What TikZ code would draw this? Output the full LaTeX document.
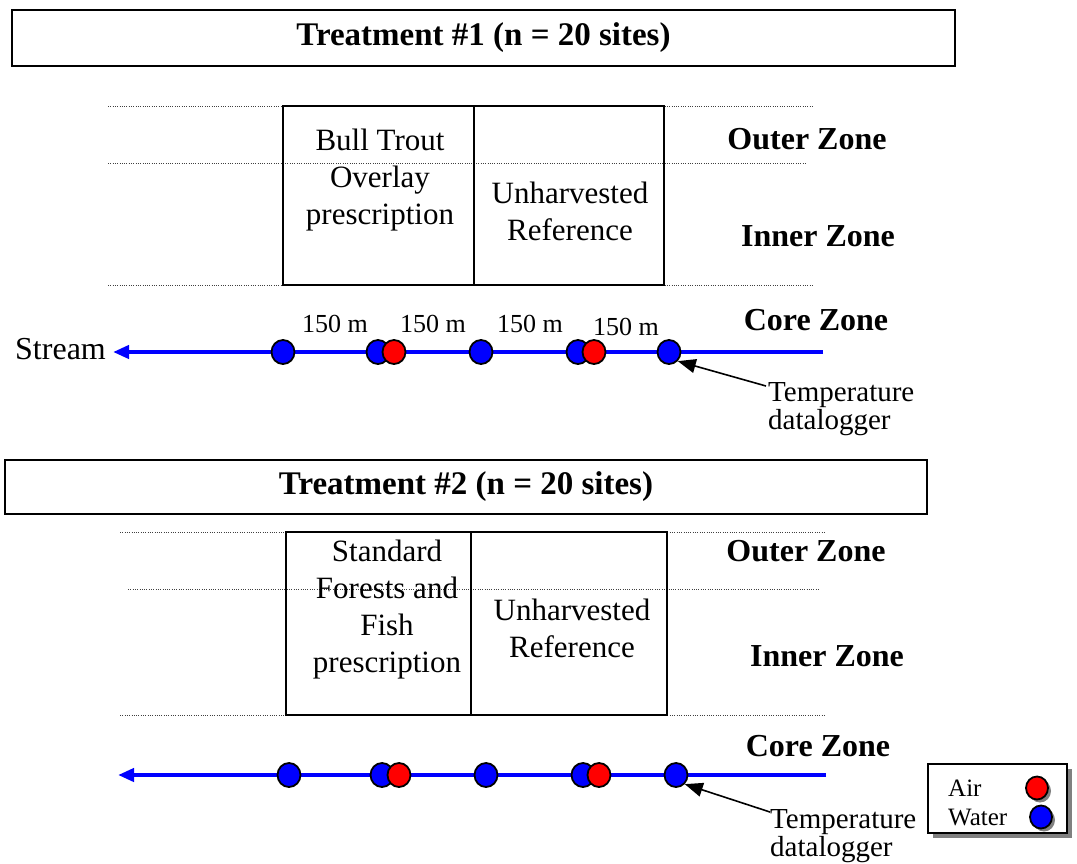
\documentclass[tikz,border=0pt]{standalone}
\usepackage{fontspec}
\setmainfont{Liberation Serif}
\usetikzlibrary{shapes.geometric,arrows.meta,shadows}
\begin{document}
\begin{tikzpicture}[x=1pt,y=-1pt,
  dotline/.style={line width=1pt, dash pattern=on 1pt off 1.3pt, black!75},
  titlebox/.style={draw, line width=2pt, inner sep=0, font=\bfseries\fontsize{33}{38}\selectfont},
  zonebox/.style={draw, line width=2pt},
  boxtext/.style={font=\fontsize{31}{37}\selectfont, align=center, inner sep=0},
  zonelabel/.style={font=\bfseries\fontsize{32}{37}\selectfont, inner sep=0},
  dist/.style={font=\fontsize{26}{30}\selectfont, inner sep=0},
  notetext/.style={font=\fontsize{29}{26}\selectfont, align=left, inner sep=0, anchor=west},
  stream/.style={line width=4pt, blue, -{Triangle[length=16pt,width=13pt]}},
  pointer/.style={line width=1.6pt, black, -{Triangle[length=18pt,width=14pt]}},
  water/.style={ellipse, draw=black, line width=1.8pt, fill=blue, minimum width=23pt, minimum height=24pt, inner sep=0},
  air/.style={ellipse, draw=black, line width=1.8pt, fill=red, minimum width=23pt, minimum height=24pt, inner sep=0},
  legshadow/.style={drop shadow={shadow xshift=3pt, shadow yshift=-3pt, fill=gray, opacity=1}},
  legtext/.style={font=\fontsize{25}{28}\selectfont, inner sep=0, anchor=west}
]
\useasboundingbox (0,0) rectangle (1077,863);

% ---------- Treatment 1 ----------
\node[titlebox, minimum width=943pt, minimum height=56pt] (t1) at (483.5,38) {Treatment \#1 (n = 20 sites)};

\draw[dotline] (108,106) -- (813,106);
\draw[dotline] (108,163) -- (805,163);
\draw[dotline] (108,285) -- (813,285);

\draw[zonebox] (283,106) rectangle (474,285);
\draw[zonebox] (474,106) rectangle (664,285);

\node[boxtext] (bt1) at (380,180) {Bull Trout\\Overlay\\prescription};
\node[boxtext] (ur1) at (570,211) {Unharvested\\Reference};

\node[zonelabel] (oz1) at (807,139) {Outer Zone};
\node[zonelabel] (iz1) at (818,236) {Inner Zone};
\node[zonelabel] (cz1) at (816,320) {Core Zone};

\node[dist] (d11) at (335,324) {150 m};
\node[dist] (d12) at (433,324) {150 m};
\node[dist] (d13) at (530,324) {150 m};
\node[dist] (d14) at (626,327) {150 m};

\coordinate (s1start) at (823,352);
\coordinate (s1end) at (113,352);
\draw[stream] (s1start) -- (s1end);
\node[font=\fontsize{32}{36}\selectfont, inner sep=0, anchor=west] (st1) at (15,349) {Stream};

\node[water] (w11) at (283,352) {};
\node[water] (w12) at (378,352) {};
\node[air]   (a11) at (394,352) {};
\node[water] (w13) at (481,352) {};
\node[water] (w14) at (578,352) {};
\node[air]   (a12) at (594,352) {};
\node[water] (w15) at (669,352) {};

\node[notetext] (tl1) at (768,409) {Temperature\\datalogger};
\coordinate (p1) at (766,386);
\draw[pointer] (p1) -- (w15.south east);

% ---------- Treatment 2 ----------
\node[titlebox, minimum width=922pt, minimum height=54pt] (t2) at (466,487) {Treatment \#2 (n = 20 sites)};

\draw[dotline] (120,532) -- (826,532);
\draw[dotline] (128,589) -- (820,589);
\draw[dotline] (120,715) -- (826,715);

\draw[zonebox] (286,532) rectangle (471,715);
\draw[zonebox] (471,532) rectangle (667,715);

\node[boxtext] (sf2) at (387,610) {Standard\\Forests and\\Fish\\prescription};
\node[boxtext] (ur2) at (572,628) {Unharvested\\Reference};

\node[zonelabel] (oz2) at (806,551) {Outer Zone};
\node[zonelabel] (iz2) at (827,656) {Inner Zone};
\node[zonelabel] (cz2) at (818,746) {Core Zone};

\coordinate (s2start) at (826,775);
\coordinate (s2end) at (118,775);
\draw[stream] (s2start) -- (s2end);

\node[water] (w21) at (289,775) {};
\node[water] (w22) at (382,775) {};
\node[air]   (a21) at (399,775) {};
\node[water] (w23) at (486,775) {};
\node[water] (w24) at (583,775) {};
\node[air]   (a22) at (599,775) {};
\node[water] (w25) at (676,775) {};

\node[notetext] (tl2) at (770,836) {Temperature\\datalogger};
\coordinate (p2) at (770,812);
\draw[pointer] (p2) -- (w25.south east);

% ---------- Legend ----------
\node[draw, fill=white, line width=1.5pt, minimum width=139pt, minimum height=69pt, inner sep=0,
      drop shadow={shadow xshift=5pt, shadow yshift=-5pt, fill=gray, opacity=1}] (leg) at (997.5,798.5) {};
\node[legtext] (la) at (948,788) {Air};
\node[legtext] (lw) at (948,817) {Water};
\node[air, legshadow, minimum width=22pt, minimum height=23pt] (lac) at (1037,788) {};
\node[water, legshadow, minimum width=22pt, minimum height=23pt] (lwc) at (1041,817) {};
\end{tikzpicture}
\end{document}
